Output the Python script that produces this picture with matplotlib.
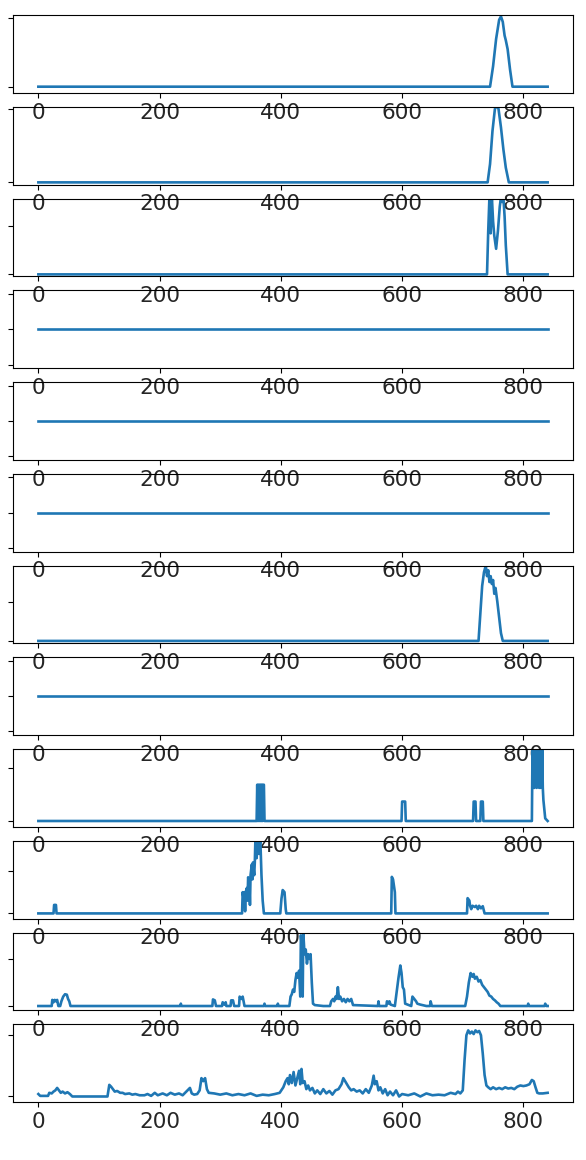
import matplotlib
matplotlib.use("Agg")
import matplotlib.pyplot as plt

# ---- data ----
x_ticks = [0, 200, 400, 600, 800]

p1_x = [0, 745, 750, 755, 760, 763, 766, 769, 771, 774, 778, 782, 840]
p1_y = [0, 0, 0.3, 0.7, 0.98, 1.03, 0.95, 0.75, 0.68, 0.55, 0.25, 0, 0]

p2_x = [0, 741, 745, 749, 753, 756, 759, 763, 767, 771, 776, 840]
p2_y = [0, 0, 0.25, 0.7, 1.0, 1.05, 1.0, 0.75, 0.45, 0.2, 0, 0]

p3_x = [0, 740, 742, 744, 746, 748, 750, 752, 755, 758, 761, 763, 765, 767, 769, 771, 774, 840]
p3_y = [0, 0, 0.9, 1.6, 0.85, 1.6, 1.1, 0.8, 0.53, 0.9, 1.4, 1.6, 1.5, 1.6, 1.2, 0.6, 0, 0]

flat_x = [0, 840]
flat_y = [0, 0]

p7_x = [0, 726, 729, 732, 735, 738, 740, 742, 744, 746, 748, 750, 752, 754, 757, 760, 763, 766, 840]
p7_y = [0, 0, 0.7, 1.4, 1.75, 1.92, 1.65, 1.8, 1.5, 1.65, 1.45, 1.55, 1.2, 1.35, 1.0, 0.6, 0.2, 0, 0]

p9_x = [0, 360, 361, 362, 363, 364, 365, 366, 367, 368, 369, 370, 371, 372, 373,
        599, 600, 605, 606, 717, 718, 721, 722, 729, 730, 733, 734,
        814, 815, 816, 817, 818, 819, 820, 821, 822, 823, 824, 825, 826, 827,
        828, 829, 830, 831, 832, 833, 836, 840]
p9_y = [0, 0, 0.69, 0.0, 0.69, 0.0, 0.69, 0.0, 0.69, 0.0, 0.69, 0.0, 0.69, 0.69, 0,
        0, 0.37, 0.37, 0, 0, 0.37, 0.37, 0, 0, 0.37, 0.37, 0,
        0, 1.35, 0.63, 1.35, 0.63, 1.35, 0.65, 1.35, 0.63, 1.35, 0.7, 1.35, 0.63, 1.35,
        0.63, 1.35, 0.65, 1.35, 0.63, 0.4, 0.05, 0]

p10_x = [0, 25, 26, 29, 30, 336, 337, 339, 340, 341, 342, 344, 345, 346, 348, 349,
         350, 352, 353, 354, 356, 357, 358, 360, 362, 364, 366, 368, 370, 372,
         399, 401, 403, 406, 408, 409, 582, 583, 585, 588, 589,
         707, 708, 711, 712, 714, 716, 720, 722, 725, 727, 730, 733, 736, 840]
p10_y = [0, 0, 0.2, 0.2, 0, 0, 0.5, 0.3, 0.5, 0.05, 0.5, 0.6, 0.3, 0.85, 0.7, 0.2,
         0.9, 1.15, 0.8, 1.2, 0.9, 1.2, 1.75, 1.3, 1.8, 1.4, 1.8, 0.9, 0.3, 0,
         0, 0.35, 0.55, 0.5, 0.1, 0, 0, 0.86, 0.8, 0.5, 0,
         0, 0.36, 0.3, 0.18, 0.1, 0.18, 0.15, 0.18, 0.1, 0.18, 0.12, 0.17, 0, 0]

p11_x = [0, 22, 23, 25, 27, 29, 31, 33, 36, 38, 41, 44, 47, 49, 51, 53, 234, 235, 236,
         287, 288, 291, 293, 303, 304, 307, 309, 310, 317, 318, 321, 323, 331, 332, 335,
         337, 340, 372, 373, 374, 394, 395, 396, 414, 416, 418, 420, 422, 424, 426, 428,
         430, 432, 433, 435, 436, 437, 439, 441, 443, 445, 447, 449, 451, 453, 456, 470,
         481, 483, 486, 488, 490, 492, 494, 496, 498, 501, 504, 507, 510, 513, 516, 519,
         560, 561, 562, 574, 575, 577, 579, 581, 588, 591, 594, 597, 599, 601, 603, 605,
         615, 617, 620, 623, 625, 630, 640, 646, 647, 649, 704, 707, 710, 713, 716, 718,
         720, 723, 726, 729, 732, 735, 738, 741, 744, 747, 750, 753, 756, 759, 762, 807,
         808, 809, 835, 836, 838, 840]
p11_y = [0, 0, 0.13, 0.08, 0.13, 0.1, 0.13, 0, 0, 0.1, 0.2, 0.25, 0.24, 0.15, 0.1, 0, 0, 0.05, 0,
         0, 0.14, 0.12, 0, 0, 0.08, 0.03, 0.08, 0, 0, 0.12, 0.12, 0, 0, 0.2, 0.15,
         0.2, 0, 0, 0.05, 0, 0, 0.05, 0, 0, 0.2, 0.25, 0.35, 0.3, 0.55, 0.7, 0.6,
         0.75, 0.2, 1.5, 1.2, 0.2, 1.55, 1.1, 1.2, 0.9, 1.1, 1.0, 1.1, 0.5, 0.05, 0.02, 0,
         0, 0.1, 0.15, 0.1, 0.2, 0.15, 0.4, 0.15, 0.2, 0.1, 0.15, 0.08, 0.15, 0.1, 0.15, 0.02,
         0, 0.1, 0, 0, 0.1, 0.05, 0.1, 0.03, 0, 0.3, 0.6, 0.86, 0.7, 0.4, 0.35, 0.05,
         0, 0.2, 0.15, 0.1, 0.05, 0.03, 0, 0, 0.1, 0, 0, 0.2, 0.5, 0.7, 0.62, 0.68,
         0.58, 0.62, 0.52, 0.55, 0.45, 0.4, 0.35, 0.3, 0.22, 0.2, 0.15, 0.12, 0.08, 0.05, 0, 0,
         0.05, 0, 0, 0.05, 0, 0]

p12_x = [0, 3, 16, 18, 22, 25, 28, 31, 34, 37, 40, 44, 48, 52, 56, 114, 117, 120, 123, 126,
         130, 135, 139, 143, 150, 155, 160, 167, 175, 180, 186, 192, 197, 205, 212, 218,
         225, 232, 238, 244, 250, 253, 257, 262, 266, 269, 272, 275, 278, 281, 290, 300,
         310, 320, 330, 340, 350, 360, 370, 380, 390, 398, 404, 408, 411, 413, 415, 418,
         421, 424, 427, 430, 432, 434, 436, 439, 442, 445, 448, 452, 456, 460, 465, 470,
         475, 480, 485, 490, 495, 500, 503, 506, 509, 512, 516, 520, 525, 530, 535, 540,
         545, 550, 553, 555, 558, 561, 564, 568, 572, 576, 580, 585, 590, 595, 600, 610,
         620, 630, 640, 650, 660, 670, 680, 688, 692, 696, 700, 703, 706, 709, 712, 715,
         718, 721, 724, 727, 730, 733, 736, 739, 742, 746, 750, 755, 760, 765, 770, 775,
         780, 785, 790, 795, 800, 805, 810, 814, 817, 820, 823, 826, 832, 840]
p12_y = [0.04, 0.01, 0.01, 0.06, 0.05, 0.08, 0.1, 0.14, 0.1, 0.06, 0.08, 0.05, 0.07, 0.04, 0.0, 0.0, 0.19, 0.16, 0.12, 0.08,
         0.09, 0.06, 0.06, 0.04, 0.05, 0.03, 0.04, 0.02, 0.02, 0.04, 0.01, 0.06, 0.02, 0.05, 0.02, 0.06,
         0.03, 0.05, 0.02, 0.08, 0.14, 0.05, 0.03, 0.04, 0.1, 0.3, 0.25, 0.3, 0.12, 0.06, 0.05, 0.03,
         0.05, 0.02, 0.04, 0.02, 0.05, 0.01, 0.03, 0.02, 0.04, 0.06, 0.15, 0.25, 0.3, 0.2, 0.35, 0.22,
         0.4, 0.18, 0.3, 0.42, 0.2, 0.45, 0.22, 0.25, 0.12, 0.18, 0.1, 0.14, 0.05, 0.1, 0.04, 0.12,
         0.05, 0.09, 0.03, 0.1, 0.12, 0.2, 0.3, 0.25, 0.2, 0.15, 0.1, 0.12, 0.08, 0.1, 0.05, 0.12,
         0.06, 0.18, 0.34, 0.2, 0.25, 0.1, 0.15, 0.05, 0.12, 0.02, 0.08, 0.02, 0.1, 0.0, 0.04, 0.02,
         0.05, 0.0, 0.05, 0.02, 0.03, 0.02, 0.06, 0.04, 0.08, 0.05, 0.1, 0.6, 1.0, 1.08, 1.03, 1.06,
         1.02, 1.08, 1.05, 1.07, 1.0, 0.7, 0.35, 0.18, 0.15, 0.12, 0.15, 0.12, 0.14, 0.12, 0.15, 0.13,
         0.14, 0.12, 0.16, 0.18, 0.17, 0.18, 0.2, 0.27, 0.25, 0.15, 0.06, 0.05, 0.05, 0.06]

series_x = [p1_x, p2_x, p3_x, flat_x, flat_x, flat_x, p7_x, flat_x, p9_x, p10_x, p11_x, p12_x]
series_y = [p1_y, p2_y, p3_y, flat_y, flat_y, flat_y, p7_y, flat_y, p9_y, p10_y, p11_y, p12_y]

# y-axis tick positions and limits per panel (tick labels hidden in the reference)
flat_ticks = [-0.05, 0, 0.05]
flat_lim = (-0.055, 0.055)
y_ticks = [[0, 1], [0, 1], [0, 1], flat_ticks, flat_ticks, flat_ticks, [0, 1], flat_ticks,
           [0, 1], [0, 1], [0, 1], [0, 1]]
y_lims = [(-0.09, 1.05), (-0.03, 1.03), (-0.04, 1.57), flat_lim, flat_lim, flat_lim,
          (-0.06, 1.92), flat_lim, (-0.11, 1.37), (-0.12, 1.71), (-0.09, 1.56), (-0.09, 1.18)]

plt.rcParams['font.family'] = ['DejaVu Sans']
fig, axes = plt.subplots(12, 1, figsize=(5.86, 11.6), dpi=100)
fig.patch.set_facecolor('white')
fig.subplots_adjust(left=0.022, right=0.978, top=0.987, bottom=0.05, hspace=0.18)

for ax, xs, ys, yt, yl in zip(axes, series_x, series_y, y_ticks, y_lims):
    ax.set_facecolor('none')
    ax.plot(xs, ys, color='#1f77b4', lw=1.9)
    ax.set_xlim(-42, 882)
    ax.set_ylim(*yl)
    ax.set_xticks(x_ticks)
    ax.set_yticks(yt)
    ax.tick_params(axis='y', labelleft=False)
    ax.tick_params(axis='x', labelsize=15.5, labelcolor='#262626')

fig.savefig('out.png', dpi=100, facecolor='white')
